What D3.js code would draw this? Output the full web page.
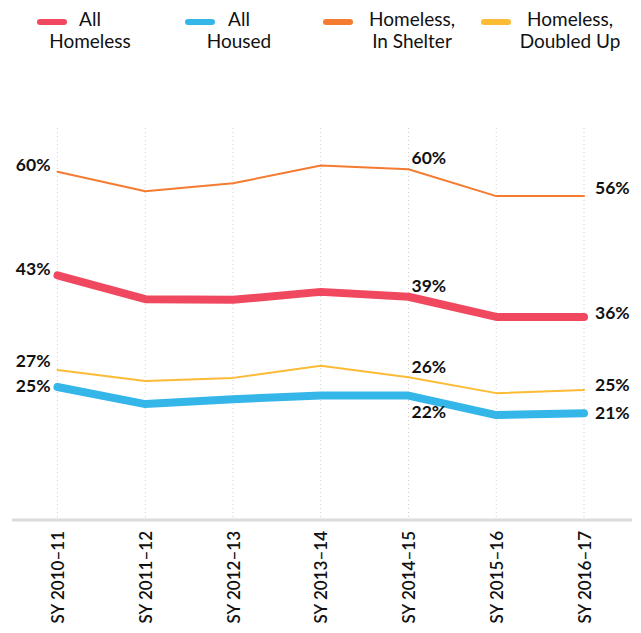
<!DOCTYPE html>
<html><head><meta charset="utf-8">
<script src="https://cdn.jsdelivr.net/npm/d3@7"></script>
<style>
body{margin:0;background:#fff;}
text{font-family:Lato,"Open Sans",sans-serif;}
</style></head>
<body>
<svg id="c" width="641" height="633"></svg>
<script>
const categories = ["SY 2010–11","SY 2011–12","SY 2012–13","SY 2013–14","SY 2014–15","SY 2015–16","SY 2016–17"];
const allHomeless = [43.0, 39.1, 39.0, 40.3, 39.5, 36.2, 36.2];
const allHoused = [24.7, 21.9, 22.7, 23.3, 23.3, 20.1, 20.4];
const inShelter = [60.0, 56.8, 58.1, 61.0, 60.4, 56.0, 56.0];
const doubledUp = [27.5, 25.7, 26.2, 28.2, 26.3, 23.7, 24.2];
const seriesNames = [["All","Homeless"],["All","Housed"],["Homeless,","In Shelter"],["Homeless,","Doubled Up"]];
const colors = ["#f0495f","#35b6e9","#f47b30","#fbbb35"];
const widths = [8, 8, 2, 2];
const series = [allHomeless, allHoused, inShelter, doubledUp];
// value labels: [seriesIndex, pointIndex, text]
const valueLabels = [
  [2,0,"60%"],[0,0,"43%"],[3,0,"27%"],[1,0,"25%"],
  [2,4,"60%"],[0,4,"39%"],[3,4,"26%"],[1,4,"22%"],
  [2,6,"56%"],[0,6,"36%"],[3,6,"25%"],[1,6,"21%"]
];

const svg = d3.select("#c");
const x = d3.scalePoint().domain(categories).range([57.5, 584]);
const y = d3.scaleLinear().domain([0, 60]).range([537.7, 171.7]);
const axisY = 520;

// grid lines
svg.append("g").selectAll("line").data(categories).join("line")
  .attr("x1", d=>x(d)).attr("x2", d=>x(d))
  .attr("y1", 128).attr("y2", axisY)
  .attr("stroke","#cfcfcf").attr("stroke-width",1).attr("stroke-dasharray","1,3");

// axis line
svg.append("line").attr("x1",12).attr("x2",632).attr("y1",axisY).attr("y2",axisY)
  .attr("stroke","#dcdcdc").attr("stroke-width",3);

// x labels via axis
const xAxis = svg.append("g").attr("transform",`translate(0,${axisY+4})`)
  .call(d3.axisBottom(x).tickSize(0).tickPadding(0));
xAxis.select(".domain").remove();
xAxis.selectAll("text")
  .attr("transform","rotate(-90)")
  .attr("x",-7).attr("y",0).attr("dy","0.36em")
  .style("text-anchor","end")
  .attr("font-size",17).attr("font-weight",600)
  .attr("fill","#111")
  .style("font-family","Lato,'Open Sans',sans-serif");

const line = d3.line().x((d,i)=>x(categories[i])).y(d=>y(d));
[2,3,0,1].forEach(s=>{
  svg.append("path").datum(series[s]).attr("d",line)
    .attr("fill","none").attr("stroke",colors[s]).attr("stroke-width",widths[s])
    .attr("stroke-linecap","round").attr("stroke-linejoin","round");
});

// value labels
const labelDy = {"2,0":-1.2,"0,0":-0.2,"3,0":-3.2,"1,0":5.2,
  "2,4":-5.5,"0,4":-5.2,"3,4":-3.8,"1,4":22.8,
  "2,6":-2.5,"0,6":1.8,"3,6":0.5,"1,6":5.5};
svg.append("g").selectAll("text").data(valueLabels).join("text")
  .attr("x", d=> d[1]===0 ? x(categories[0]) - 7 : (d[1]===4 ? x(categories[4]) + 3 : x(categories[6]) + 11))
  .attr("y", d=> y(series[d[0]][d[1]]) + labelDy[d[0]+","+d[1]])
  .attr("text-anchor", d=> d[1]===0 ? "end" : "start")
  .attr("font-size",17.5).attr("font-weight",700).attr("fill","#111")
  .text(d=>d[2]);

// legend
const legX = [40, 188, 326, 484];
const legTextX = [90, 239, 412, 570];
seriesNames.forEach((nm,i)=>{
  svg.append("line").attr("x1",legX[i]).attr("x2",legX[i]+24).attr("y1",22).attr("y2",22)
    .attr("stroke",colors[i]).attr("stroke-width",6).attr("stroke-linecap","round");
  const g = svg.append("g");
  g.append("text").attr("text-anchor","middle").attr("font-size",19).attr("fill","#111")
    .attr("x",legTextX[i]).attr("y",26).text(nm[0]);
  g.append("text").attr("text-anchor","middle").attr("font-size",19).attr("fill","#111")
    .attr("x",legTextX[i]).attr("y",48).text(nm[1]);
});
</script>
</body></html>
